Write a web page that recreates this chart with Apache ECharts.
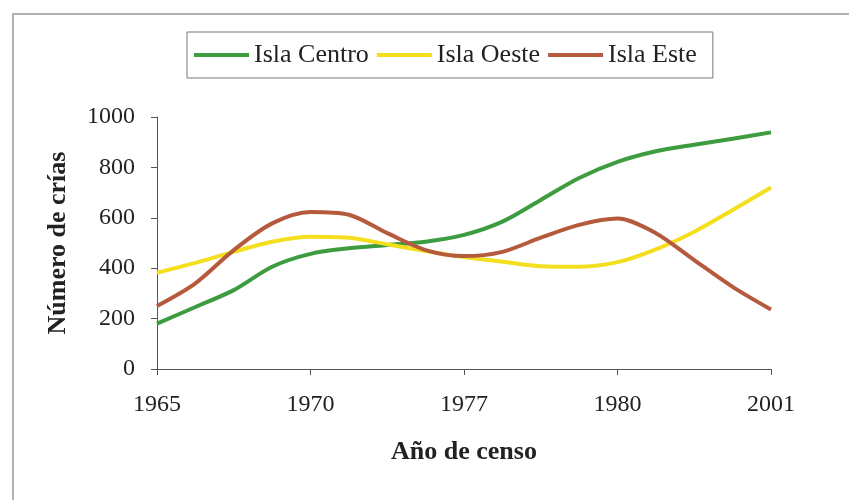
<!DOCTYPE html>
<html>
<head>
<meta charset="utf-8">
<script src="https://cdn.jsdelivr.net/npm/echarts@6/dist/echarts.min.js"></script>
<style>
  html, body { margin: 0; padding: 0; background: #fff; }
  #main { width: 849px; height: 500px; }
</style>
</head>
<body>
<div id="main"></div>
<script>
// census years shown on the x axis (every 4th sample point)
const yearLabels = ['1965', '1970', '1977', '1980', '2001'];

// curves, 17 samples between 1965 and 2001
const islaCentro = [180, 246, 313, 406, 457, 479, 492, 505, 532, 585, 671, 758, 822, 864, 890, 914, 939];
const islaOeste  = [382, 421, 465, 505, 525, 521, 495, 468, 444, 426, 408, 406, 424, 475, 545, 631, 720];
const islaEste   = [250, 340, 472, 578, 623, 612, 539, 472, 448, 465, 521, 572, 597, 539, 432, 326, 236];

const serif = '"Liberation Serif", "DejaVu Serif", serif';

function toPairs(arr) {
    return arr.map((v, i) => [i, v]);
}

let myChart = echarts.init(document.getElementById('main'));

let option = {
    backgroundColor: '#fff',
    animation: false,
    graphic: [{
        type: 'rect',
        shape: { x: 13, y: 14, width: 860, height: 520 },
        style: { fill: 'none', stroke: '#999', lineWidth: 1.5 }
    }],
    legend: {
        top: 32,
        left: 187,
        padding: [10, 16, 10, 7],
        borderColor: '#777',
        borderWidth: 1,
        icon: 'rect',
        itemWidth: 55,
        itemHeight: 4,
        itemGap: 8,
        textStyle: { fontFamily: serif, fontSize: 26, color: '#222', padding: [0, 0, 0, 0] },
        data: ['Isla Centro', 'Isla Oeste', 'Isla Este']
    },
    grid: { left: 157, right: 78, top: 117, bottom: 131 },
    xAxis: {
        type: 'value',
        min: 0,
        max: 16,
        interval: 4,
        name: 'Año de censo',
        nameLocation: 'middle',
        nameGap: 70,
        nameTextStyle: { fontFamily: serif, fontSize: 26, fontWeight: 'bold', color: '#222' },
        axisLine: { lineStyle: { color: '#555' } },
        axisTick: { show: true, length: 6, lineStyle: { color: '#555' } },
        splitLine: { show: false },
        axisLabel: {
            fontFamily: serif, fontSize: 24, color: '#222', margin: 24,
            formatter: (v) => yearLabels[v / 4]
        }
    },
    yAxis: {
        type: 'value',
        min: 0,
        max: 1000,
        interval: 200,
        name: 'Número de crías',
        nameLocation: 'middle',
        nameGap: 86,
        nameTextStyle: { fontFamily: serif, fontSize: 26, fontWeight: 'bold', color: '#222' },
        axisLine: { show: true, lineStyle: { color: '#555' } },
        axisTick: { show: true, length: 6, lineStyle: { color: '#555' } },
        splitLine: { show: false },
        axisLabel: {
            fontFamily: serif, fontSize: 24, color: '#222', margin: 22,
            formatter: (v) => String(v)
        }
    },
    series: [
        {
            name: 'Isla Centro', type: 'line', smooth: 0.3, showSymbol: false,
            color: '#3c9c3f', lineStyle: { width: 4 },
            data: toPairs(islaCentro)
        },
        {
            name: 'Isla Oeste', type: 'line', smooth: 0.3, showSymbol: false,
            color: '#f3df1e', lineStyle: { width: 4 },
            data: toPairs(islaOeste)
        },
        {
            name: 'Isla Este', type: 'line', smooth: 0.3, showSymbol: false,
            color: '#b55a3c', lineStyle: { width: 4 },
            data: toPairs(islaEste)
        }
    ]
};

myChart.setOption(option);
</script>
</body>
</html>
